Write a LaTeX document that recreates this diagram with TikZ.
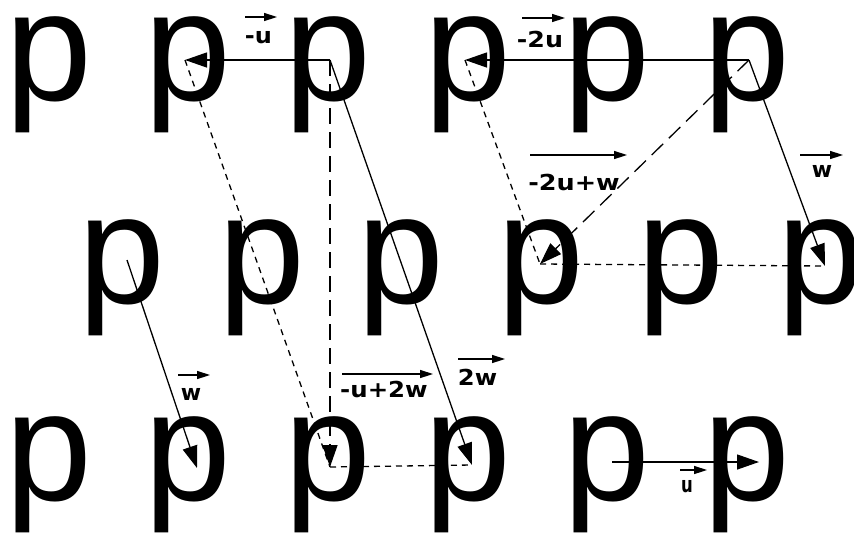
\documentclass[tikz,border=0pt]{standalone}
\usepackage{fontspec}
\usepackage{graphicx}
\setmainfont{Liberation Sans}
\newfontfamily\labfont{DejaVu Sans}
\usetikzlibrary{arrows.meta}
\begin{document}
\begin{tikzpicture}[x=1pt,y=-1pt,
  letter/.style={anchor=north west, inner sep=0pt, font=\fontsize{156pt}{156pt}\selectfont},
  vlab/.style={anchor=base, inner sep=0pt, font=\labfont\bfseries\fontsize{22pt}{22pt}\selectfont},
  vec/.style={line width=1.3pt, -{Triangle[length=22pt,width=15pt]}},
  longdash/.style={line width=1.3pt, dash pattern=on 16pt off 8pt, -{Triangle[length=22pt,width=15pt]}},
  dots/.style={line width=1.3pt, dash pattern=on 6pt off 5pt},
  labarrow/.style={line width=1.5pt, -{Triangle[length=13pt,width=8pt]}}]
\useasboundingbox (0,0) rectangle (854,533);
\fill[white] (0,0) rectangle (854,533);
% letters
\foreach \i in {0,...,5} {
  \node[letter] (t\i) at ({5+139.6*\i},16) {p};
  \node[letter] (m\i) at ({78+139.8*\i},219) {p};
  \node[letter] (b\i) at ({5+139.6*\i},416) {p};
}
% lattice points
\coordinate (T2) at (185,60);
\coordinate (T3) at (330,60);
\coordinate (T4) at (465,60);
\coordinate (T6) at (749,60);
\coordinate (M1) at (127,260);
\coordinate (M4) at (540,264);
\coordinate (M6) at (825,266);
\coordinate (B2) at (197,468);
\coordinate (B3) at (330,467);
\coordinate (B4) at (472,465);
\coordinate (B5) at (612,462);
\coordinate (B6) at (759,462);
% vectors
\draw[vec] (T3) -- (T2);
\draw[dots] (T2) -- (B3);
\draw[longdash] (T3) -- (B3);
\draw[vec] (T3) -- (B4);
\draw[dots] (B3) -- (B4);
\draw[vec] (T6) -- (T4);
\draw[dots] (T4) -- (M4);
\draw[longdash] (T6) -- (M4);
\draw[vec] (T6) -- (M6);
\draw[dots] (M4) -- (M6);
\draw[vec] (M1) -- (B2);
\draw[vec] (B5) -- (B6);
% labels
\node[vlab] (lu) at (258.5,43) {\scalebox{1.09}[1]{-u}};
\draw[labarrow] ([shift={(-13.5,-26)}]lu.base) -- ([shift={(18.5,-26)}]lu.base);
\node[vlab] (l2u) at (540,47) {\scalebox{1.15}[1]{-2u}};
\draw[labarrow] ([shift={(-18,-29)}]l2u.base) -- ([shift={(25,-29)}]l2u.base);
\node[vlab] (l2uw) at (574,190) {\scalebox{1.16}[1]{-2u+w}};
\draw[labarrow] ([shift={(-44,-35)}]l2uw.base) -- ([shift={(53,-35)}]l2uw.base);
\node[vlab] (lwtr) at (822,177) {w};
\draw[labarrow] ([shift={(-22,-22)}]lwtr.base) -- ([shift={(21,-22)}]lwtr.base);
\node[vlab] (lwm) at (191,400) {w};
\draw[labarrow] ([shift={(-13,-25)}]lwm.base) -- ([shift={(19,-25)}]lwm.base);
\node[vlab] (lu2w) at (384,397) {\scalebox{1.11}[1]{-u+2w}};
\draw[labarrow] ([shift={(-42,-23)}]lu2w.base) -- ([shift={(49,-23)}]lu2w.base);
\node[vlab] (l2w) at (477.5,385) {\scalebox{1.1}[1]{2w}};
\draw[labarrow] ([shift={(-19.5,-26)}]l2w.base) -- ([shift={(27.5,-26)}]l2w.base);
\node[vlab] (lub) at (687,492) {\scalebox{0.75}[1]{u}};
\draw[labarrow] ([shift={(-7,-22)}]lub.base) -- ([shift={(20,-22)}]lub.base);
\end{tikzpicture}
\end{document}
